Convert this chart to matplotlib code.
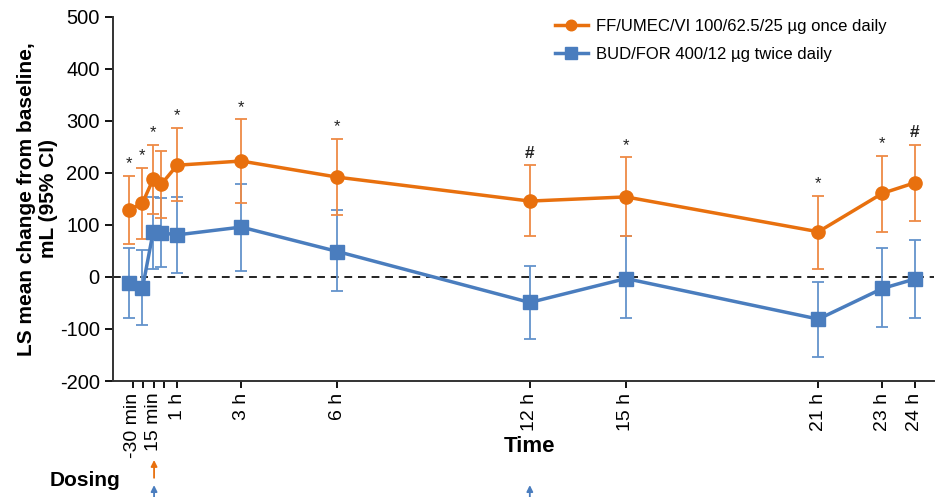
import numpy as np
import matplotlib
matplotlib.use("Agg")
from matplotlib import pyplot as plt

plt.rcParams['font.family'] = ['Liberation Sans', 'DejaVu Sans']
plt.rcParams['axes.unicode_minus'] = False

# time points in hours
times = [-0.5, -1/12, 0.25, 0.5, 1, 3, 6, 12, 15, 21, 23, 24]
tick_labels = ["-30 min", "", "15 min", "", "1 h", "3 h", "6 h", "12 h", "15 h", "21 h", "23 h", "24 h"]
# the early ticks sit evenly spaced in the original figure
tick_pos = [-0.38, -0.06, 0.27, 0.6, 1, 3, 6, 12, 15, 21, 23, 24]

# FF/UMEC/VI
fuv_mean = [129, 142, 188, 178, 215, 223, 192, 146, 154, 87, 161, 181]
fuv_lo = [63, 73, 122, 114, 146, 143, 119, 79, 78, 15, 87, 108]
fuv_hi = [195, 210, 254, 243, 286, 303, 265, 215, 230, 156, 233, 254]
fuv_marks = ["*", "*", "*", "", "*", "*", "*", "#", "*", "*", "*", "#"]

# BUD/FOR
bf_mean = [-11, -22, 86, 85, 81, 96, 49, -49, -3, -81, -22, -4]
bf_lo = [-79, -92, 15, 19, 7, 12, -27, -119, -79, -153, -97, -78]
bf_hi = [56, 51, 154, 151, 154, 178, 129, 21, 78, -9, 56, 71]

# dosing times (h)
dose_fuv = [0.28]
dose_bf = [0.28, 12]

orange = "#E8700E"
orange_err = "#EE8A45"
blue = "#4A7DBE"
blue_err = "#6393CC"

fig = plt.figure(figsize=(9.38, 4.97), dpi=100)
ax = fig.add_axes([0.1205, 0.2334, 0.875, 0.7324])

ax.axhline(0, color="#222222", ls=(0, (4, 3)), lw=1.4, zorder=1)

fm = np.array(fuv_mean)
bm = np.array(bf_mean)
ax.errorbar(times, bf_mean, yerr=[bm - np.array(bf_lo), np.array(bf_hi) - bm],
            fmt="none", ecolor=blue_err, elinewidth=1.3, capsize=4, capthick=1.3, zorder=2)
ax.errorbar(times, fuv_mean, yerr=[fm - np.array(fuv_lo), np.array(fuv_hi) - fm],
            fmt="none", ecolor=orange_err, elinewidth=1.3, capsize=4, capthick=1.3, zorder=2)
ax.plot(times, bf_mean, color=blue, lw=2.5, marker="s", ms=10,
        label="BUD/FOR 400/12 \u00b5g twice daily", zorder=3)
ax.plot(times, fuv_mean, color=orange, lw=2.5, marker="o", ms=9.5,
        label="FF/UMEC/VI 100/62.5/25 \u00b5g once daily", zorder=4)

for t, hi, m in zip(times, fuv_hi, fuv_marks):
    if m == "*":
        ax.text(t, hi + 9, m, ha="center", va="bottom", fontsize=12, color="#222222")
    elif m == "#":
        ax.text(t, hi + 9, m, ha="center", va="bottom", fontsize=12.5,
                fontweight="bold", color="#222222")

ax.set_xlim(-1.0, 24.6)
ax.set_ylim(-200, 500)
ax.set_yticks(np.arange(-200, 501, 100))
ax.tick_params(axis="y", labelsize=14.5, length=6, width=1.3, direction="out")
ax.set_xticks(tick_pos)
ax.set_xticklabels(tick_labels, rotation=90, fontsize=14)
ax.tick_params(axis="x", length=5, width=1.3, direction="out")

for s in ["top", "right"]:
    ax.spines[s].set_visible(False)
for s in ["left", "bottom"]:
    ax.spines[s].set_linewidth(1.4)
    ax.spines[s].set_color("#333333")

ax.set_ylabel("LS mean change from baseline,\nmL (95% CI)", fontsize=15,
              fontweight="bold", labelpad=1)
ax.set_xlabel("Time", fontsize=16, fontweight="bold")
ax.xaxis.set_label_coords(0.508, -0.152)

handles, labels = ax.get_legend_handles_labels()
ax.legend(handles[::-1], labels[::-1], loc="upper left", bbox_to_anchor=(0.52, 1.035),
          frameon=False, fontsize=12, handlelength=2.0, handletextpad=0.5,
          markerscale=0.8, labelspacing=0.75)

# dosing arrows
fig.text(0.053, 0.034, "Dosing", fontsize=15, fontweight="bold", va="center")
for t in dose_fuv:
    ax.annotate("", xy=(t, -0.217), xycoords=("data", "axes fraction"),
                xytext=(t, -0.266), textcoords=("data", "axes fraction"),
                annotation_clip=False,
                arrowprops=dict(arrowstyle="-|>", color=orange, lw=1.3,
                                mutation_scale=9, shrinkA=0, shrinkB=0))
for t in dose_bf:
    ax.annotate("", xy=(t, -0.286), xycoords=("data", "axes fraction"),
                xytext=(t, -0.33), textcoords=("data", "axes fraction"),
                annotation_clip=False,
                arrowprops=dict(arrowstyle="-|>", color=blue, lw=1.3,
                                mutation_scale=9, shrinkA=0, shrinkB=0))

fig.savefig("out.png", dpi=100)
